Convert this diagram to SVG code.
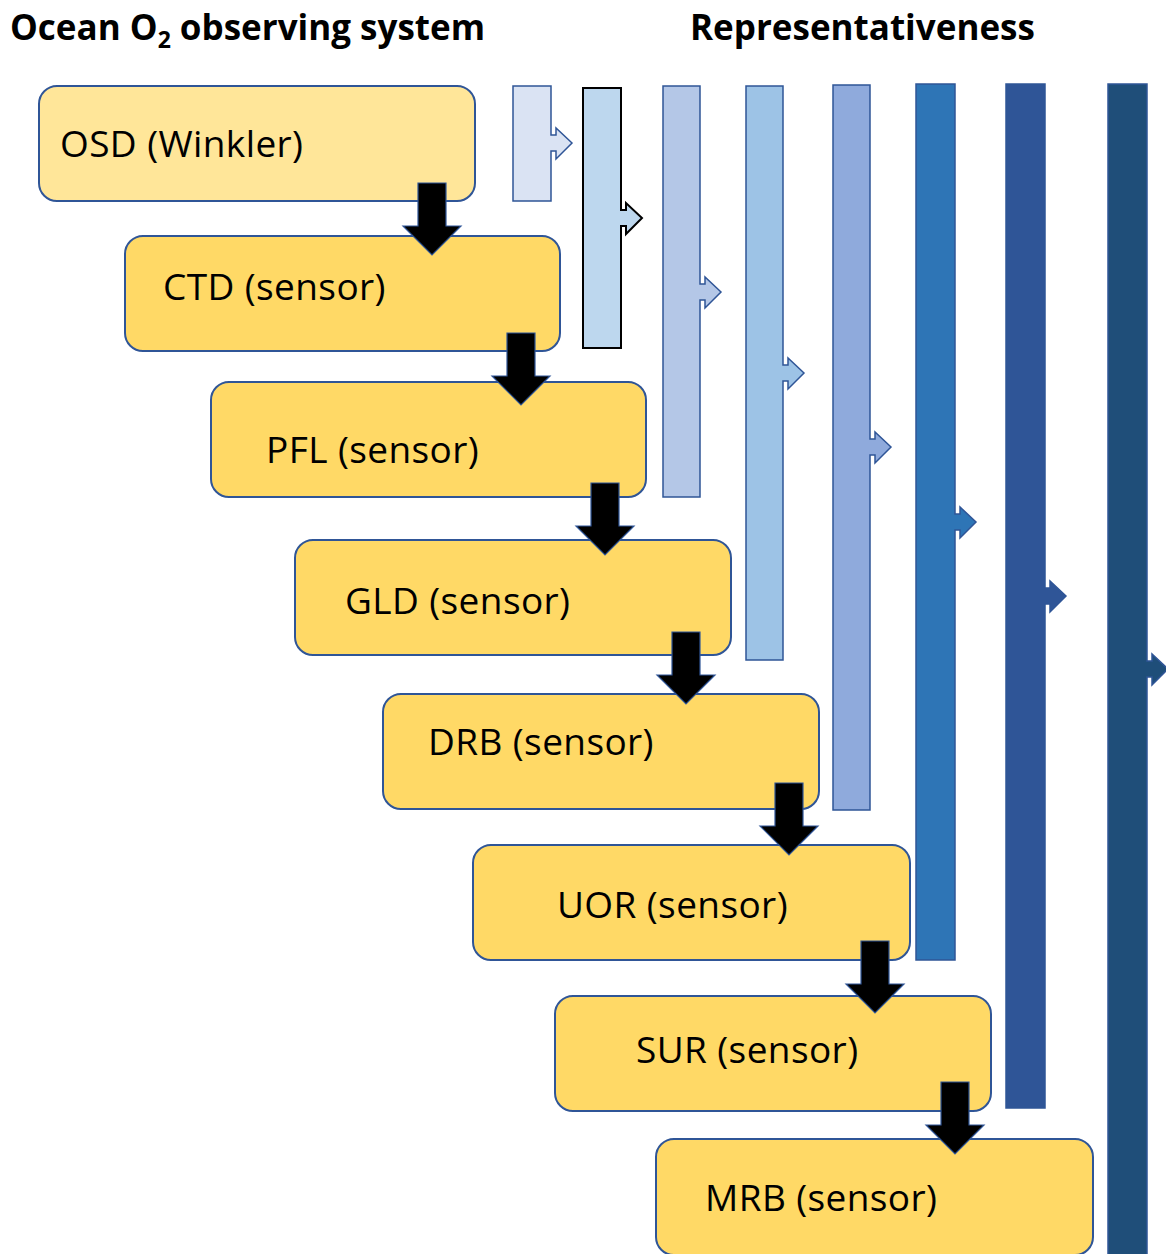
<svg xmlns="http://www.w3.org/2000/svg" width="1166" height="1254" viewBox="0 0 1166 1254">
<style>
.box{fill:#FFD966;stroke:#2F5597;stroke-width:2}
.box0{fill:#FFE699;stroke:#2F5597;stroke-width:2}
.lbl{font-family:"Open Sans",Lato,"Liberation Sans",sans-serif;font-size:37px;letter-spacing:0.4px;fill:#000}
.ttl{font-family:"Open Sans",Lato,"Liberation Sans",sans-serif;font-size:35px;font-weight:bold;fill:#000}
.bar{stroke:#2F5597;stroke-width:1.5}
.dn{fill:#000;stroke:#2F5597;stroke-width:1.2;stroke-linejoin:miter}
</style>
<rect width="1166" height="1254" fill="#fff"/>
<text class="ttl" x="10" y="40">Ocean O<tspan font-size="23" dy="8">2</tspan><tspan dy="-8"> observing system</tspan></text>
<text class="ttl" x="690" y="40">Representativeness</text>

<g id="bars">
<g id="bar1"><polygon class="bar" fill="#DAE3F3" points="513,86 551,86 551,135 556,135 556,128 572,143 556,159 556,151 551,151 551,201 513,201"/></g>
<g id="bar2"><polygon class="bar" fill="#BDD7EE" style="stroke:#000;stroke-width:2" points="583,88 621,88 621,210 626,210 626,203 642,218 626,234 626,226 621,226 621,348 583,348"/></g>
<g id="bar3"><polygon class="bar" fill="#B4C7E7" points="663,86 700,86 700,284 705,284 705,277 721,292 705,308 705,300 700,300 700,497 663,497"/></g>
<g id="bar4"><polygon class="bar" fill="#9DC3E6" points="746,86 783,86 783,365 788,365 788,358 804,373 788,389 788,381 783,381 783,660 746,660"/></g>
<g id="bar5"><polygon class="bar" fill="#8FAADC" points="833,85 870,85 870,439 875,439 875,432 891,447 875,463 875,455 870,455 870,810 833,810"/></g>
<g id="bar6"><polygon class="bar" fill="#2E75B6" points="916,84 955,84 955,514 960,514 960,507 976,522 960,538 960,530 955,530 955,960 916,960"/></g>
<g id="bar7"><polygon class="bar" fill="#2F5597" points="1006,84 1045,84 1045,588 1050,588 1050,581 1066,596 1050,612 1050,604 1045,604 1045,1108 1006,1108"/></g>
<g id="bar8"><polygon class="bar" fill="#1F4E79" points="1108,84 1147,84 1147,661 1152,661 1152,654 1168,669 1152,685 1152,677 1147,677 1147,1256 1108,1256"/></g>
</g>

<g id="node-osd"><rect class="box0" x="39" y="86" width="436" height="115" rx="18"/><text class="lbl" x="60" y="157">OSD (Winkler)</text></g>
<g id="node-ctd"><rect class="box" x="125" y="236" width="435" height="115" rx="18"/><text class="lbl" x="163" y="300">CTD (sensor)</text></g>
<g id="node-pfl"><rect class="box" x="211" y="382" width="435" height="115" rx="18"/><text class="lbl" x="266" y="463">PFL (sensor)</text></g>
<g id="node-gld"><rect class="box" x="295" y="540" width="436" height="115" rx="18"/><text class="lbl" x="345" y="614">GLD (sensor)</text></g>
<g id="node-drb"><rect class="box" x="383" y="694" width="436" height="115" rx="18"/><text class="lbl" x="428" y="755">DRB (sensor)</text></g>
<g id="node-uor"><rect class="box" x="473" y="845" width="437" height="115" rx="18"/><text class="lbl" x="557" y="918">UOR (sensor)</text></g>
<g id="node-sur"><rect class="box" x="555" y="996" width="436" height="115" rx="18"/><text class="lbl" x="636" y="1063">SUR (sensor)</text></g>
<g id="node-mrb"><rect class="box" x="656" y="1139" width="437" height="116" rx="18"/><text class="lbl" x="705" y="1211">MRB (sensor)</text></g>

<g id="connectors">
<polygon class="dn" points="418,183 446,183 446,226 461,226 432,255 403,226 418,226"/>
<polygon class="dn" points="507,333 535,333 535,376 550,376 521,405 492,376 507,376"/>
<polygon class="dn" points="591,483 619,483 619,526 634,526 605,555 576,526 591,526"/>
<polygon class="dn" points="672,632 700,632 700,675 715,675 686,704 657,675 672,675"/>
<polygon class="dn" points="775,783 803,783 803,826 818,826 789,855 760,826 775,826"/>
<polygon class="dn" points="861,941 889,941 889,984 904,984 875,1013 846,984 861,984"/>
<polygon class="dn" points="941,1082 969,1082 969,1125 984,1125 955,1154 926,1125 941,1125"/>
</g>
</svg>
